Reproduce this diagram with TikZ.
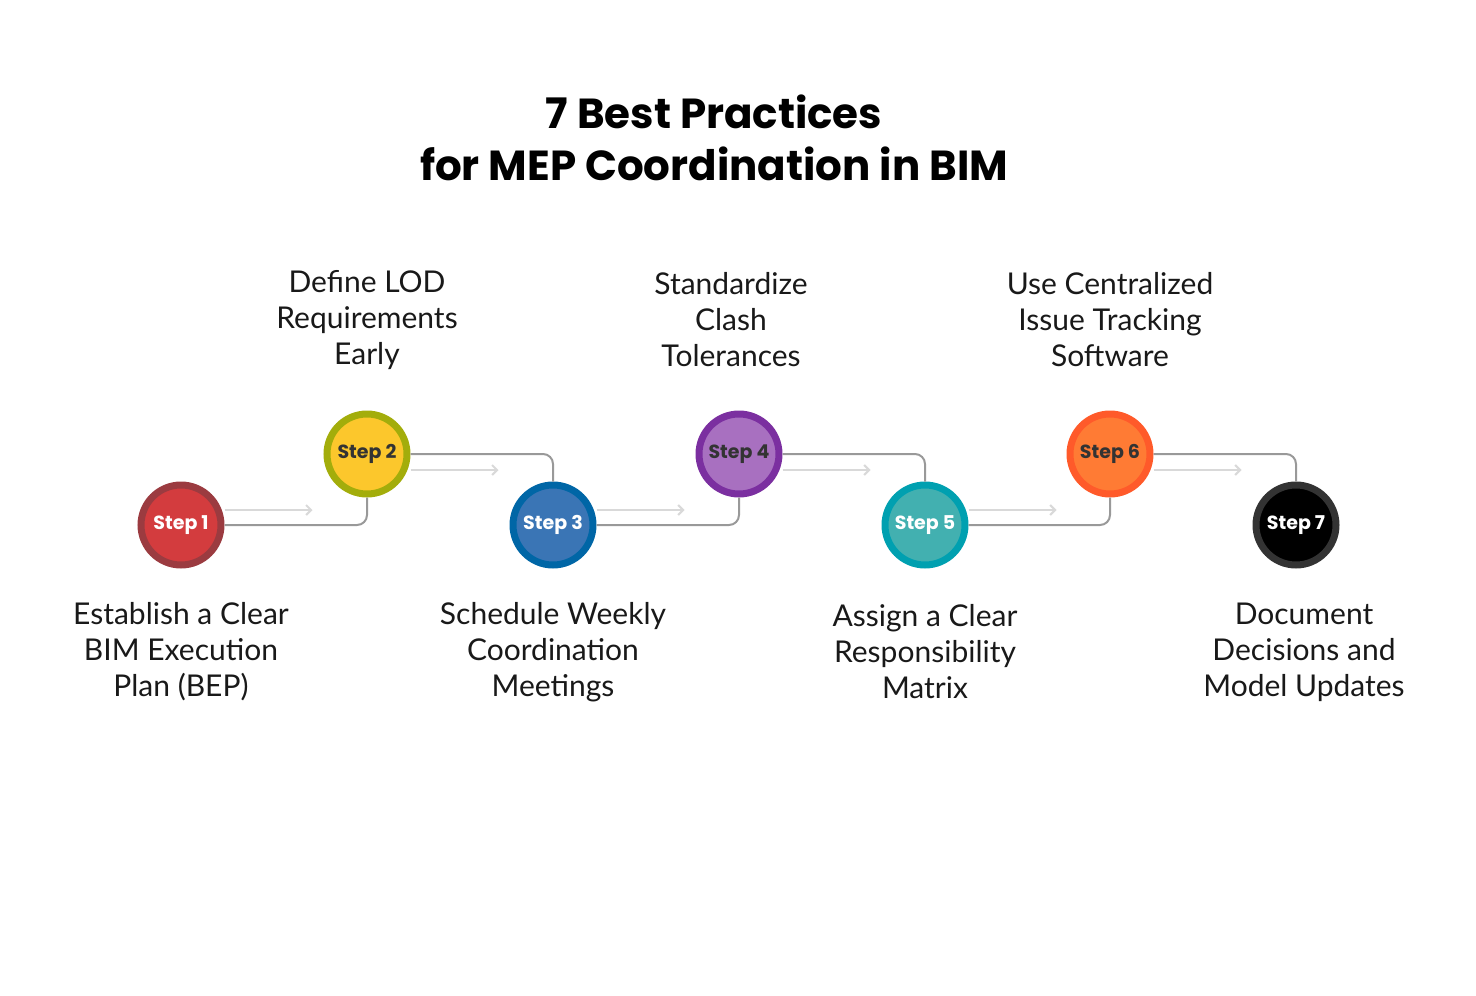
\documentclass[tikz,border=0pt]{standalone}
\usepackage{fontspec}
\setmainfont{Lato}
\newfontfamily\tfont{Poppins}
\usetikzlibrary{arrows.meta}
\begin{document}
\begin{tikzpicture}[x=1pt,y=-1pt,
 stp/.style={circle,minimum size=80pt,inner sep=0pt,line width=7pt,font=\tfont\fontsize{19}{19}\selectfont\bfseries},
 lab/.style={align=center,font=\fontsize{30}{36}\selectfont,text=black!90},
 conn/.style={draw=black!40,line width=2pt,rounded corners=10pt},
 ghost/.style={draw=black!15,line width=2pt,-{Straight Barb[length=5pt,width=10pt]}}]
\useasboundingbox (0,0) rectangle (1476,996);
\node[font=\tfont\fontsize{42}{52}\selectfont\bfseries,align=center] (title) at (714,138) {7 Best Practices\\for MEP Coordination in BIM};
\node[stp,fill={rgb,255:red,211;green,60;blue,62},draw={rgb,255:red,155;green,59;blue,64},text=white] (s1) at (181,525) {Step 1};
\node[stp,fill={rgb,255:red,252;green,199;blue,44},draw={rgb,255:red,163;green,173;blue,11},text=black!80] (s2) at (367,454) {Step 2};
\node[stp,fill={rgb,255:red,58;green,117;blue,181},draw={rgb,255:red,0;green,102;blue,166},text=white] (s3) at (553,525) {Step 3};
\node[stp,fill={rgb,255:red,168;green,112;blue,192},draw={rgb,255:red,123;green,47;blue,160},text=black!80] (s4) at (739,454) {Step 4};
\node[stp,fill={rgb,255:red,66;green,176;blue,176},draw={rgb,255:red,0;green,160;blue,176},text=white] (s5) at (925,525) {Step 5};
\node[stp,fill={rgb,255:red,255;green,123;blue,52},draw={rgb,255:red,255;green,90;blue,42},text=black!80] (s6) at (1110,454) {Step 6};
\node[stp,fill=black,draw=black!80,text=white] (s7) at (1296,525) {Step 7};
\foreach \a/\b in {s1/s2,s3/s4,s5/s6}{
 \draw[conn] (\a.east) -| (\b.south);
 \draw[ghost] ([yshift=15pt]\a.east) -- ++(88,0);
}
\foreach \a/\b in {s2/s3,s4/s5,s6/s7}{
 \draw[conn] (\a.east) -| (\b.north);
 \draw[ghost] ([yshift=-16pt]\a.east) -- ++(88,0);
}
\node[lab] (l1) at (181,652) {Establish a Clear\\BIM Execution\\Plan (BEP)};
\node[lab] (l2) at (367,320) {Define LOD\\Requirements\\Early};
\node[lab] (l3) at (553,652) {Schedule Weekly\\Coordination\\Meetings};
\node[lab] (l4) at (731,320) {Standardize\\Clash\\Tolerances};
\node[lab] (l5) at (925,652) {Assign a Clear\\Responsibility\\Matrix};
\node[lab] (l6) at (1110,320) {Use Centralized\\Issue Tracking\\Software};
\node[lab] (l7) at (1304,652) {Document\\Decisions and\\Model Updates};
\end{tikzpicture}
\end{document}
